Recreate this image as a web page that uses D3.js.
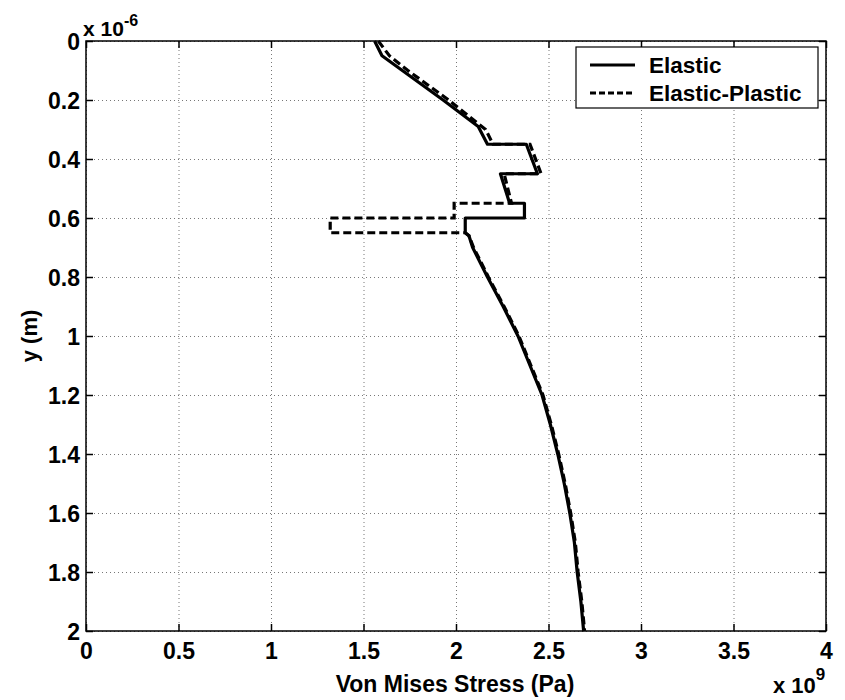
<!DOCTYPE html>
<html>
<head>
<meta charset="utf-8">
<script src="https://cdn.jsdelivr.net/npm/d3@7"></script>
<style>
body { margin: 0; background: #fff; }
text { font-family: "Liberation Sans", Arial, sans-serif; font-weight: bold; fill: #000; }
</style>
</head>
<body>
<script>
// depth in 1e-6 m, stress in 1e9 Pa
var elastic_depth = [0, 0.05, 0.1, 0.2, 0.29, 0.35, 0.35, 0.45, 0.45, 0.55, 0.55, 0.6, 0.6, 0.65, 0.66, 0.7, 0.8, 0.9, 1.0, 1.1, 1.2, 1.3, 1.4, 1.5, 1.6, 1.7, 1.8, 1.9, 2.0];
var elastic_stress = [1.56, 1.60, 1.71, 1.93, 2.12, 2.17, 2.38, 2.44, 2.24, 2.29, 2.37, 2.37, 2.05, 2.05, 2.07, 2.09, 2.17, 2.255, 2.335, 2.40, 2.465, 2.51, 2.55, 2.585, 2.615, 2.64, 2.655, 2.675, 2.69];

var plastic_depth = [0, 0.05, 0.1, 0.2, 0.3, 0.35, 0.35, 0.45, 0.45, 0.55, 0.55, 0.6, 0.6, 0.65, 0.65, 0.66, 0.7, 0.8, 0.9, 1.0, 1.1, 1.2, 1.3, 1.4, 1.5, 1.6, 1.7, 1.8, 1.9, 2.0];
var plastic_stress = [1.58, 1.64, 1.74, 1.96, 2.16, 2.20, 2.40, 2.46, 2.26, 2.30, 1.99, 1.99, 1.32, 1.32, 2.05, 2.07, 2.095, 2.175, 2.26, 2.34, 2.405, 2.47, 2.515, 2.555, 2.59, 2.62, 2.645, 2.66, 2.68, 2.695];

var x_ticks = [0, 0.5, 1, 1.5, 2, 2.5, 3, 3.5, 4];
var y_ticks = [0, 0.2, 0.4, 0.6, 0.8, 1, 1.2, 1.4, 1.6, 1.8, 2];
var series_names = ['Elastic', 'Elastic-Plastic'];

var width = 845;
var height = 700;
var p_left = 86, p_right = 826, p_top = 41, p_bottom = 631;

var svg = d3.select("body").append("svg")
.attr("width", width)
.attr("height", height);

var x = d3.scaleLinear().domain([0, 4]).range([p_left, p_right]);
var y = d3.scaleLinear().domain([0, 2]).range([p_top, p_bottom]);

// grid
svg.append("g")
.attr("transform", "translate(0," + p_bottom + ")")
.call(d3.axisBottom(x).tickValues(x_ticks).tickSize(-(p_bottom - p_top)).tickFormat(""))
.call(function(g){ g.select(".domain").remove(); })
.selectAll("line")
.attr("stroke", "#777")
.attr("stroke-width", 1)
.attr("stroke-dasharray", "1,3");

svg.append("g")
.attr("transform", "translate(" + p_left + ",0)")
.call(d3.axisLeft(y).tickValues(y_ticks).tickSize(-(p_right - p_left)).tickFormat(""))
.call(function(g){ g.select(".domain").remove(); })
.selectAll("line")
.attr("stroke", "#777")
.attr("stroke-width", 1)
.attr("stroke-dasharray", "1,3");

// inward ticks on all four sides
function ticks(axis, tr) {
	var g = svg.append("g").attr("transform", tr).call(axis);
	g.select(".domain").remove();
	g.selectAll("line").attr("stroke", "#000").attr("stroke-width", 1.5);
	return g;
}
var gx = ticks(d3.axisBottom(x).tickValues(x_ticks).tickSizeInner(-7).tickSizeOuter(0).tickPadding(11).tickFormat(d3.format("")), "translate(0," + p_bottom + ")");
gx.selectAll("text").style("font-size", "23px").attr("dy", "0.72em");
ticks(d3.axisTop(x).tickValues(x_ticks).tickSizeInner(-7).tickSizeOuter(0).tickFormat(""), "translate(0," + p_top + ")");
var gy = ticks(d3.axisLeft(y).tickValues(y_ticks).tickSizeInner(-7).tickSizeOuter(0).tickPadding(6).tickFormat(d3.format("")), "translate(" + p_left + ",0)");
gy.selectAll("text").style("font-size", "23px").attr("dy", "0.36em");
ticks(d3.axisRight(y).tickValues(y_ticks).tickSizeInner(-7).tickSizeOuter(0).tickFormat(""), "translate(" + p_right + ",0)");

svg.append("rect")
.attr("x", p_left).attr("y", p_top)
.attr("width", p_right - p_left).attr("height", p_bottom - p_top)
.attr("fill", "none").attr("stroke", "#000").attr("stroke-width", 1.5);

var line = d3.line()
.x(function(d){ return x(d[0]); })
.y(function(d){ return y(d[1]); });

svg.append("path")
.datum(d3.zip(elastic_stress, elastic_depth))
.attr("d", line)
.attr("fill", "none").attr("stroke", "#000").attr("stroke-width", 3.2)
.attr("stroke-linejoin", "round");

svg.append("path")
.datum(d3.zip(plastic_stress, plastic_depth))
.attr("d", line)
.attr("fill", "none").attr("stroke", "#000").attr("stroke-width", 3.2)
.attr("stroke-dasharray", "8,4");

// legend
var lg = svg.append("g");
lg.append("rect")
.attr("x", 576).attr("y", 47).attr("width", 242).attr("height", 61)
.attr("fill", "#fff").attr("stroke", "#000").attr("stroke-width", 1.2);
series_names.forEach(function(name, i){
	var ly = 65 + i * 28;
	lg.append("line")
	.attr("x1", 590).attr("x2", 635).attr("y1", ly).attr("y2", ly)
	.attr("stroke", "#000").attr("stroke-width", 3)
	.attr("stroke-dasharray", i == 0 ? null : "6,3");
	lg.append("text")
	.attr("x", 649).attr("y", ly + 8)
	.style("font-size", "22.5px")
	.text(name);
});

// labels
svg.append("text")
.attr("x", 455).attr("y", 692)
.attr("text-anchor", "middle")
.style("font-size", "23px")
.text("Von Mises Stress (Pa)");

svg.append("text")
.attr("transform", "translate(37," + ((p_top + p_bottom) / 2) + ")rotate(-90)")
.attr("text-anchor", "middle")
.style("font-size", "22px")
.text("y (m)");

var e1 = svg.append("text").attr("x", 83).attr("y", 36).style("font-size", "21px");
e1.append("tspan").text("x 10");
e1.append("tspan").attr("dy", -10).style("font-size", "16px").text("-6");

var e2 = svg.append("text").attr("x", 773).attr("y", 693).style("font-size", "22px");
e2.append("tspan").text("x 10");
e2.append("tspan").attr("dy", -13).style("font-size", "17px").text("9");
</script>
</body>
</html>
